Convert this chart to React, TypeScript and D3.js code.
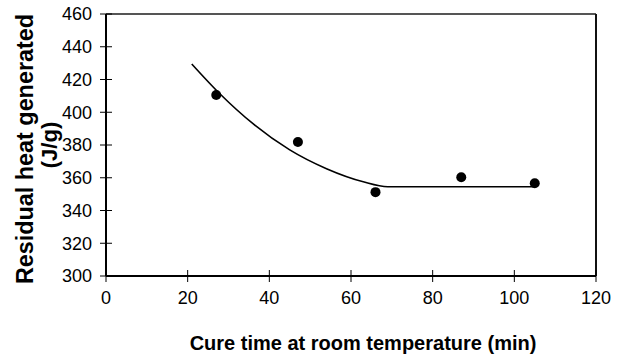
import React, { useEffect, useRef } from 'react';
import * as d3 from 'd3';

// measured points
const cureTime = [27, 47, 66, 87, 105];
const residualHeat = [410.5, 381.8, 351.2, 360.3, 356.6];

// fitted trend line as drawn
const fitTime = [21, 28, 36, 45, 54, 63, 69, 105];
const fitHeat = [429.5, 411, 393, 377, 365.5, 357.5, 354.5, 354.5];

const xTicks = [0, 20, 40, 60, 80, 100, 120];
const yTicks = [300, 320, 340, 360, 380, 400, 420, 440, 460];

const App = () => {
  const svgRef = useRef<SVGSVGElement>(null);

  useEffect(() => {
    const svg = d3.select(svgRef.current);
    svg.selectAll('*').remove();
    const width = 619;
    const height = 356;
    const font = 'Arial, "Liberation Sans", sans-serif';

    const x = d3.scaleLinear().domain([0, 120]).range([106, 596]);
    const y = d3.scaleLinear().domain([300, 460]).range([276, 14]);

    svg.attr('width', width).attr('height', height);

    // frame
    svg.append('line').attr('x1', x(0)).attr('x2', x(120)).attr('y1', y(460)).attr('y2', y(460))
      .attr('stroke', '#555').attr('stroke-width', 2);
    svg.append('line').attr('x1', x(120)).attr('x2', x(120)).attr('y1', y(460)).attr('y2', y(300))
      .attr('stroke', '#111').attr('stroke-width', 2);
    svg.append('line').attr('x1', x(0)).attr('x2', x(0)).attr('y1', y(460)).attr('y2', y(300))
      .attr('stroke', '#000').attr('stroke-width', 2);
    svg.append('line').attr('x1', x(0)).attr('x2', x(120)).attr('y1', y(300)).attr('y2', y(300))
      .attr('stroke', '#000').attr('stroke-width', 2);

    // y ticks (cross the axis)
    svg.selectAll('.ytick').data(yTicks).enter().append('line')
      .attr('x1', x(0) - 6).attr('x2', x(0) + 6)
      .attr('y1', d => y(d)).attr('y2', d => y(d))
      .attr('stroke', '#000').attr('stroke-width', 1);
    svg.selectAll('.ylab').data(yTicks).enter().append('text')
      .attr('x', 92).attr('y', d => y(d)).attr('dy', '0.35em')
      .attr('text-anchor', 'end').attr('font-family', font).attr('font-size', 18)
      .text(d => d);

    // x ticks
    svg.selectAll('.xtick').data(xTicks).enter().append('line')
      .attr('x1', d => x(d)).attr('x2', d => x(d))
      .attr('y1', y(300) - 6).attr('y2', y(300) + 6)
      .attr('stroke', '#000').attr('stroke-width', 1);
    svg.selectAll('.xlab').data(xTicks).enter().append('text')
      .attr('x', d => x(d)).attr('y', 304)
      .attr('text-anchor', 'middle').attr('font-family', font).attr('font-size', 18)
      .text(d => d);

    // trend line
    const line = d3.line<number>()
      .x((d, i) => x(fitTime[i]))
      .y(d => y(d))
      .curve(d3.curveMonotoneX);
    svg.append('path').attr('d', line(fitHeat))
      .attr('fill', 'none').attr('stroke', '#000').attr('stroke-width', 1.6);

    // points
    svg.selectAll('.pt').data(residualHeat).enter().append('circle')
      .attr('cx', (d, i) => x(cureTime[i])).attr('cy', d => y(d))
      .attr('r', 5).attr('fill', '#000');

    // axis titles
    svg.append('text').attr('x', 363).attr('y', 350)
      .attr('text-anchor', 'middle').attr('font-family', font)
      .attr('font-size', 20).attr('font-weight', 'bold')
      .text('Cure time at room temperature (min)');

    const yt = svg.append('g').attr('transform', 'translate(33,149) rotate(-90)');
    yt.append('text').attr('x', 0).attr('y', 0)
      .attr('text-anchor', 'middle').attr('font-family', font)
      .attr('font-size', 24).attr('font-weight', 'bold')
      .attr('textLength', 270).attr('lengthAdjust', 'spacingAndGlyphs')
      .text('Residual heat generated');
    svg.append('g').attr('transform', 'translate(57,145) rotate(-90)')
      .append('text').attr('x', 0).attr('y', 0)
      .attr('text-anchor', 'middle').attr('font-family', font)
      .attr('font-size', 22).attr('font-weight', 'bold')
      .text('(J/g)');
  }, []);

  return <svg ref={svgRef} style={{ position: 'absolute', left: 0, top: 0 }}></svg>;
};

export default App;
